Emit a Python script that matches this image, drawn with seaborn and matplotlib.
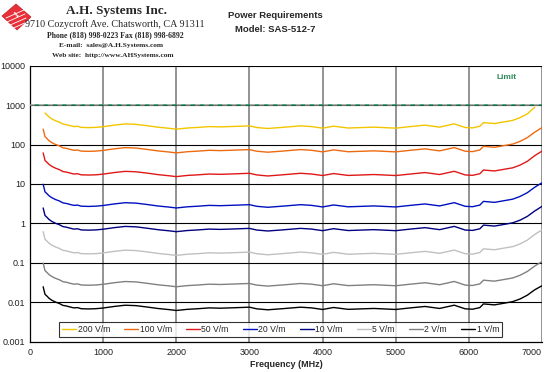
import numpy as np
import pandas as pd
import matplotlib
matplotlib.use("Agg")
import matplotlib.pyplot as plt
import seaborn as sns
from matplotlib.patches import Polygon
from matplotlib.lines import Line2D
from matplotlib.ticker import FixedLocator, FixedFormatter, LogLocator, NullFormatter, MultipleLocator

freq = [180, 205, 230, 260, 300, 350, 400, 450, 500, 550,
        600, 650, 700, 800, 900, 1000, 1150, 1300, 1450, 1600,
        1750, 1900, 2000, 2150, 2300, 2450, 2600, 2800, 3000, 3100,
        3250, 3450, 3700, 3850, 4000, 4150, 4350, 4550, 4700, 4850,
        5000, 5200, 5400, 5600, 5800, 5950, 6050, 6150, 6200, 6350,
        6500, 6600, 6700, 6800, 6900, 7000]

p_200 = [np.nan, 630, 570, 500, 445, 400, 370, 330, 318, 300,
         285, 290, 272, 268, 272, 283, 310, 333, 325, 300,
         275, 258, 245, 262, 272, 285, 280, 288, 297, 270,
         255, 272, 297, 285, 260, 292, 262, 270, 276, 268,
         260, 285, 310, 276, 334, 270, 264, 290, 360, 340,
         380, 410, 480, 600, 880, np.nan]
p_100 = [245, 158, 143, 125, 111, 100, 92.5, 82.5, 79.5, 75,
         71.3, 72.5, 68, 67, 68, 70.8, 77.5, 83.3, 81.3, 75,
         68.8, 64.5, 61.3, 65.5, 68, 71.3, 70, 72, 74.3, 67.5,
         63.8, 68, 74.3, 71.3, 65, 73, 65.5, 67.5, 69, 67,
         65, 71.3, 77.5, 69, 83.5, 67.5, 66, 72.5, 90, 85,
         95, 102.5, 120, 150, 205, 269]
p_50 = [61.3, 39.4, 35.6, 31.3, 27.8, 25, 23.1, 20.6, 19.9, 18.8,
        17.8, 18.1, 17, 16.8, 17, 17.7, 19.4, 20.8, 20.3, 18.8,
        17.2, 16.1, 15.3, 16.4, 17, 17.8, 17.5, 18, 18.6, 16.9,
        15.9, 17, 18.6, 17.8, 16.3, 18.3, 16.4, 16.9, 17.3, 16.8,
        16.3, 17.8, 19.4, 17.3, 20.9, 16.9, 16.5, 18.1, 22.5, 21.3,
        23.8, 25.6, 30, 37.5, 52, 68]
p_20 = [9.8, 6.3, 5.7, 5.0, 4.45, 4.0, 3.7, 3.3, 3.18, 3.0,
        2.85, 2.9, 2.72, 2.68, 2.72, 2.83, 3.1, 3.33, 3.25, 3.0,
        2.75, 2.58, 2.45, 2.62, 2.72, 2.85, 2.8, 2.88, 2.97, 2.7,
        2.55, 2.72, 2.97, 2.85, 2.6, 2.92, 2.62, 2.7, 2.76, 2.68,
        2.6, 2.85, 3.1, 2.76, 3.34, 2.7, 2.64, 2.9, 3.6, 3.4,
        3.8, 4.1, 4.8, 6.0, 8.2, 10.7]
p_10 = [2.45, 1.58, 1.43, 1.25, 1.11, 1.0, 0.925, 0.825, 0.795, 0.75,
        0.713, 0.725, 0.68, 0.67, 0.68, 0.708, 0.775, 0.833, 0.813, 0.75,
        0.688, 0.645, 0.613, 0.655, 0.68, 0.713, 0.7, 0.72, 0.743, 0.675,
        0.638, 0.68, 0.743, 0.713, 0.65, 0.73, 0.655, 0.675, 0.69, 0.67,
        0.65, 0.713, 0.775, 0.69, 0.835, 0.675, 0.66, 0.725, 0.9, 0.85,
        0.95, 1.03, 1.2, 1.5, 2.05, 2.69]
p_5 = [0.613, 0.394, 0.356, 0.313, 0.278, 0.25, 0.231, 0.206, 0.199, 0.188,
       0.178, 0.181, 0.17, 0.168, 0.17, 0.177, 0.194, 0.208, 0.203, 0.188,
       0.172, 0.161, 0.153, 0.164, 0.17, 0.178, 0.175, 0.18, 0.186, 0.169,
       0.159, 0.17, 0.186, 0.178, 0.163, 0.183, 0.164, 0.169, 0.173, 0.168,
       0.163, 0.178, 0.194, 0.173, 0.209, 0.169, 0.165, 0.181, 0.225, 0.213,
       0.238, 0.256, 0.3, 0.375, 0.52, 0.68]
p_2 = [0.098, 0.063, 0.057, 0.05, 0.0445, 0.04, 0.037, 0.033, 0.0318, 0.03,
       0.0285, 0.029, 0.0272, 0.0268, 0.0272, 0.0283, 0.031, 0.0333, 0.0325, 0.03,
       0.0275, 0.0258, 0.0245, 0.0262, 0.0272, 0.0285, 0.028, 0.0288, 0.0297, 0.027,
       0.0255, 0.0272, 0.0297, 0.0285, 0.026, 0.0292, 0.0262, 0.027, 0.0276, 0.0268,
       0.026, 0.0285, 0.031, 0.0276, 0.0334, 0.027, 0.0264, 0.029, 0.036, 0.034,
       0.038, 0.041, 0.048, 0.06, 0.082, 0.107]
p_1 = [0.0245, 0.0158, 0.0143, 0.0125, 0.0111, 0.01, 0.00925, 0.00825, 0.00795, 0.0075,
       0.00713, 0.00725, 0.0068, 0.0067, 0.0068, 0.00708, 0.00775, 0.00833, 0.00813, 0.0075,
       0.00688, 0.00645, 0.00613, 0.00655, 0.0068, 0.00713, 0.007, 0.0072, 0.00743, 0.00675,
       0.00638, 0.0068, 0.00743, 0.00713, 0.0065, 0.0073, 0.00655, 0.00675, 0.0069, 0.0067,
       0.0065, 0.00713, 0.00775, 0.0069, 0.00835, 0.00675, 0.0066, 0.00725, 0.009, 0.0085,
       0.0095, 0.0103, 0.012, 0.015, 0.0205, 0.026]

series_names = ["200 V/m", "100 V/m", "50 V/m", "20 V/m", "10 V/m", "5 V/m", "2 V/m", "1 V/m"]
series_values = [p_200, p_100, p_50, p_20, p_10, p_5, p_2, p_1]
series_colors = ["#F2C500", "#EE6A10", "#E01818", "#0010C0", "#000080", "#C0C0C0", "#808080", "#000000"]

limit_freq = [0, 7000]
limit_power = [1000, 1000]

y_ticks = [0.001, 0.01, 0.1, 1, 10, 100, 1000, 10000]
y_labels = ["0.001", "0.01", "0.1", "1", "10", "100", "1000", "10000"]
x_ticks = [0, 1000, 2000, 3000, 4000, 5000, 6000, 7000]

rows = []
for name, vals in zip(series_names, series_values):
    for f, v in zip(freq, vals):
        rows.append((f, v, name))
df = pd.DataFrame(rows, columns=["Frequency", "Power", "Series"]).dropna()
df_limit = pd.DataFrame({"Frequency": limit_freq, "Power": limit_power})

sns.set_theme(style="white")
plt.rcParams["font.family"] = ["Liberation Sans", "DejaVu Sans"]

fig = plt.figure(figsize=(5.5, 3.72), dpi=100)
ax = fig.add_axes([30 / 550, 1 - 341.5 / 372, 512 / 550, 275.8 / 372])
ax.set_yscale("log")

# grids
for xv in x_ticks[1:]:
    ax.axvline(xv, color="#808080", lw=1.2, zorder=1)
for yv in y_ticks[1:]:
    ax.axhline(yv, color="#000000", lw=0.8, zorder=1)

palette = dict(zip(series_names, series_colors))
sns.lineplot(data=df, x="Frequency", y="Power", hue="Series", hue_order=series_names,
             palette=palette, linewidth=1.0, ax=ax, legend=False, zorder=3, sort=True,
             estimator=None)
sns.lineplot(data=df_limit, x="Frequency", y="Power", color="#999999", linewidth=1.1,
             linestyle=(0, (3, 3)), ax=ax, legend=False, zorder=4)
ax.lines[-1].set_gapcolor("#1E8C5A")

ax.text(6520, 5000, "Limit", color="#2E8B57", fontsize=6, fontweight="bold",
        ha="center", va="center")

ax.set_xlim(0, 7000)
ax.set_ylim(0.001, 10000)
ax.xaxis.set_major_locator(FixedLocator(x_ticks))
ax.xaxis.set_minor_locator(MultipleLocator(200))
ax.yaxis.set_major_locator(FixedLocator(y_ticks))
ax.yaxis.set_major_formatter(FixedFormatter(y_labels))
ax.yaxis.set_minor_locator(LogLocator(base=10, subs=np.arange(2, 10), numticks=20))
ax.yaxis.set_minor_formatter(NullFormatter())

for s in ["top", "right"]:
    ax.spines[s].set_visible(False)
for s in ["left", "bottom"]:
    ax.spines[s].set_color("black")
    ax.spines[s].set_linewidth(0.9)

ax.tick_params(axis="both", which="major", direction="inout", length=5, width=0.8,
               colors="black", labelsize=6.5, labelcolor="#222222")
ax.tick_params(axis="x", which="minor", direction="out", length=2.5, width=0.6, colors="black")
ax.tick_params(axis="y", which="minor", direction="in", length=2.5, width=0.6, colors="black")
ax.tick_params(axis="x", which="major", pad=2.5)
ax.tick_params(axis="y", which="major", pad=1)

ax.set_xlabel("Frequency (MHz)", fontsize=6.5, fontweight="bold", labelpad=1.5)
ax.set_ylabel("")
for lbl in ax.get_xticklabels():
    if lbl.get_text() == "7000":
        lbl.set_horizontalalignment("right")
        lbl.set_x(7000)
ax.get_xticklabels()[-1].set_ha("right")

handles = [Line2D([0], [0], color=c, lw=1.0) for c in series_colors]
leg = ax.legend(handles, series_names, loc="lower left", ncol=8,
                bbox_to_anchor=(0.057, 0.016, 0.865, 0.062), mode="expand",
                borderaxespad=0, fontsize=6.2, frameon=True, fancybox=False,
                handlelength=1.6, handletextpad=0.2, columnspacing=0.8,
                borderpad=0.35)
leg.get_frame().set_edgecolor("black")
leg.get_frame().set_linewidth(0.8)
leg.get_frame().set_facecolor("white")
leg.set_zorder(5)

# Header
def fx(px):
    return px / 550

def fy(py):
    return 1 - py / 372

serif = ["Liberation Serif", "DejaVu Serif"]
fig.text(fx(117), fy(11), "A.H. Systems Inc.", family=serif, fontsize=9.5,
         fontweight="bold", ha="center", va="center")
fig.text(fx(115), fy(24), "9710 Cozycroft Ave. Chatsworth, CA 91311", family=serif,
         fontsize=7.3, ha="center", va="center")
fig.text(fx(115), fy(35), "Phone (818) 998-0223 Fax (818) 998-6892", family=serif,
         fontsize=5.6, fontweight="bold", ha="center", va="center")
fig.text(fx(111), fy(45), "E-mail:  sales@A.H.Systems.com", family=serif,
         fontsize=5.3, fontweight="bold", ha="center", va="center")
fig.text(fx(113), fy(55), "Web site:  http://www.AHSystems.com", family=serif,
         fontsize=5.3, fontweight="bold", ha="center", va="center")

fig.text(fx(275), fy(16), "Power Requirements", fontsize=6.8, fontweight="bold",
         ha="center", va="center")
fig.text(fx(275), fy(29), "Model: SAS-512-7", fontsize=6.8, fontweight="bold",
         ha="center", va="center")

# logo
logo_pts = [(2, 16), (16, 4), (31, 17), (17, 30)]
fig.patches.append(Polygon([(fx(a), fy(b)) for a, b in logo_pts], closed=True,
                           transform=fig.transFigure, facecolor="#E8303A",
                           edgecolor="#C02030", lw=0.5, figure=fig))
for k in range(4):
    y0 = 12 + k * 4
    fig.lines.append(Line2D([fx(6 + k), fx(24 + k)], [fy(y0 + 6), fy(y0 - 2)],
                            transform=fig.transFigure, color="white", lw=0.6, figure=fig))
fig.text(fx(17), fy(15), "1", color="white", fontsize=6, fontweight="bold",
         ha="center", va="center", rotation=40, family=serif)

fig.savefig("out.png", dpi=100, facecolor="white")
